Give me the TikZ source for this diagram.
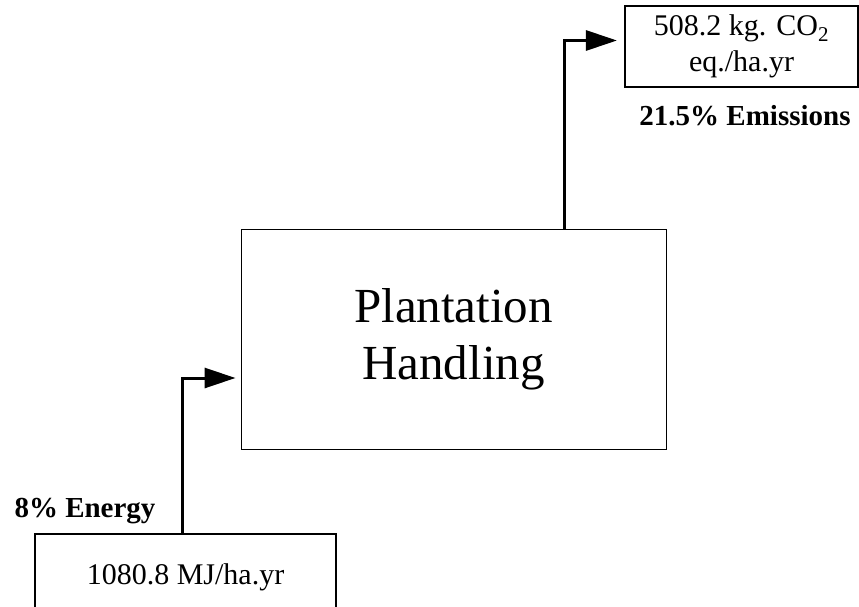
\documentclass[tikz,border=0pt]{standalone}
\usepackage{fontspec}
\setmainfont{Liberation Serif}
\usetikzlibrary{arrows.meta}

\begin{document}
\begin{tikzpicture}[x=1pt, y=-1pt,
    box/.style={draw, black, rectangle, fill=white, inner sep=0pt, align=center},
    flow/.style={draw, black, line width=3pt,
      -{Triangle[length=31pt, width=20pt]}},
    tag/.style={anchor=base, font=\fontsize{29}{34}\selectfont\bfseries}]
  \useasboundingbox (0,0) rectangle (859,607);
  % stages
  \node (plant) [box, line width=1pt, minimum width=425pt, minimum height=220pt,
    font=\fontsize{49}{57}\selectfont] at (453.5,339) {Plantation\\Handling};
  \node (co2) [box, line width=2.2pt, minimum width=233pt, minimum height=81pt,
    font=\fontsize{30}{36}\selectfont] at (741.5,46.5)
    {508.2 kg. CO\textsubscript{2}\\eq./ha.yr};
  \node (energy) [box, line width=2.2pt, minimum width=301pt, minimum height=86pt,
    font=\fontsize{30}{36}\selectfont] at (185.5,577) {1080.8 MJ/ha.yr};
  % flows
  \draw [flow, shorten >=5pt] ([xshift=-3.5pt]energy.north) |- ([yshift=-39pt]plant.west);
  \draw [flow, shorten >=7pt] ([xshift=110.5pt]plant.north) |- ([yshift=6pt]co2.west);
  % shares
  \node (share-e) [tag] at (85,517) {8\% Energy};
  \node (share-c) [tag] at (745,126) {21.5\% Emissions};
\end{tikzpicture}
\end{document}
